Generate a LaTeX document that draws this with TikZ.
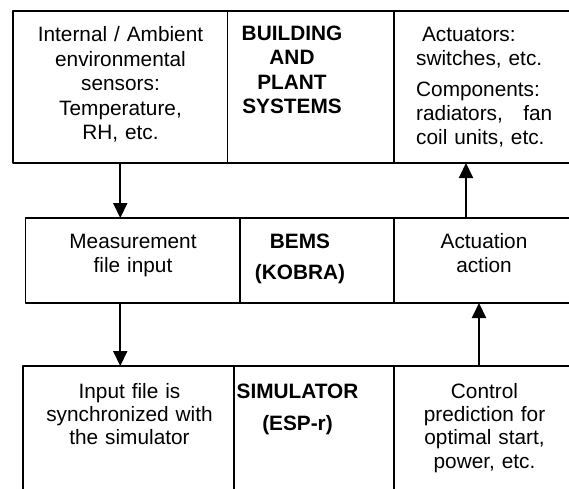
\documentclass[tikz,border=0pt]{standalone}
\usepackage{fontspec}
\setmainfont{Liberation Sans}
\usetikzlibrary{arrows.meta}
\newcommand\diafont{\fontsize{20.8}{24.5}\selectfont}
\newcommand\lowfont{\fontsize{20.8}{23.3}\selectfont}
\begin{document}
\begin{tikzpicture}[x=1pt, y=-1pt, font=\diafont, line join=round,
	>={Triangle[width=14pt,length=15pt]},
	cell/.style={draw, line width=1.8pt, inner sep=0pt, outer sep=0pt, minimum height=#1},
	txt/.style={anchor=base, align=center, text width=200pt, inner sep=0pt},
	hd/.style={txt, font=\diafont\bfseries},
	flow/.style={->, line width=2pt}]
	\useasboundingbox (0,0) rectangle (569,488);
	\clip (0,0) rectangle (569,488);
	% building and plant systems
	\node[cell=152pt, minimum width=214.5pt] (sens) at (120.25,87) {};
	\node[cell=152pt, minimum width=167pt] (bldg) at (311,87) {};
	\node[cell=152pt, minimum width=206pt] (comp) at (497,87) {};
	\node[txt] (senstxt) at (120.5,41.7) {Internal / Ambient\\environmental\\sensors:\\Temperature,\\RH, etc.};
	\node[hd] (bldgtxt) at (292,40) {BUILDING\\AND\\PLANT\\SYSTEMS};
	\node[txt, anchor=base west, align=left, text width=136pt, font=\fontsize{20.8}{24}\selectfont] (comptxt) at (416,41.7)
		{\hspace*{5.8pt}Actuators:\\switches, etc.\\[7pt]Components:\\radiators,\hfill fan\\coil units, etc.};
	% BEMS
	\node[cell=85pt, minimum width=214.6pt] (meas) at (132.7,260.5) {};
	\node[cell=85pt, minimum width=154pt] (bems) at (317,260.5) {};
	\node[cell=85pt, minimum width=206pt] (act) at (497,260.5) {};
	\node[txt] (meastxt) at (133,248.3) {Measurement\\file input};
	\node[hd] (bemstxt) at (300,248.3) {BEMS\\[6.5pt](KOBRA)};
	\node[txt] (acttxt) at (484,248.3) {Actuation\\action};
	% simulator
	\node[cell=154pt, minimum width=211pt] (inp) at (128.5,443) {};
	\node[cell=154pt, minimum width=160pt] (sim) at (314,443) {};
	\node[cell=154pt, minimum width=206pt] (ctrl) at (497,443) {};
	\node[txt, font=\lowfont] (inptxt) at (129.5,398.3) {Input file is\\synchronized with\\the simulator};
	\node[hd] (simtxt) at (297.5,398.3) {SIMULATOR\\[8pt](ESP-r)};
	\node[txt, font=\lowfont] (ctrltxt) at (484.5,398.3) {Control\\prediction for\\optimal start,\\power, etc.};
	% flows
	\draw[flow] (sens.south) -- (sens.south |- meas.north);
	\draw[flow] ([xshift=-31pt]act.north) -- ([xshift=-31pt]comp.south);
	\draw[flow] (meas.south -| sens.south) -- (inp.north -| sens.south);
	\draw[flow] ([xshift=-18pt]ctrl.north) -- ([xshift=-18pt]act.south);
\end{tikzpicture}
\end{document}
